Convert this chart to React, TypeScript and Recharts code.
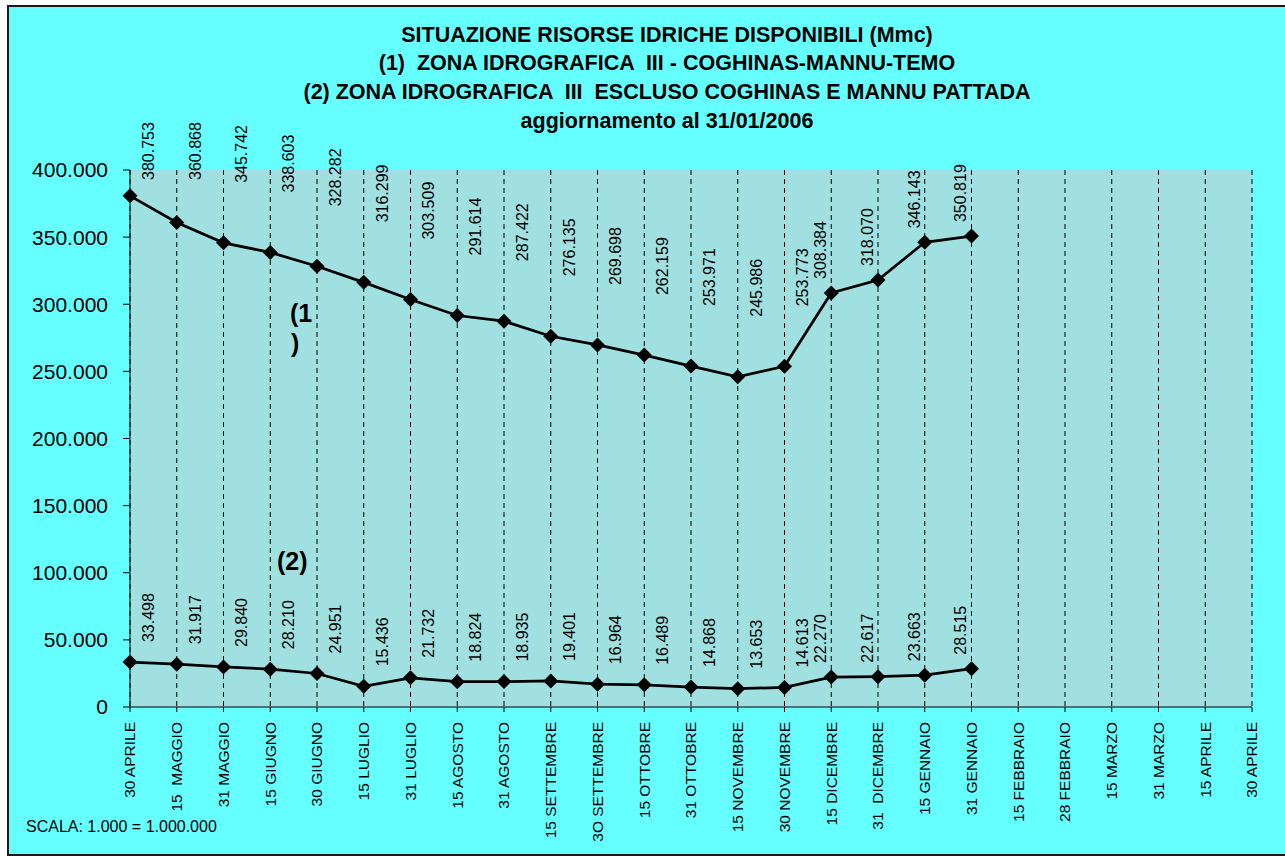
import React from "react";
import { LineChart, Line, XAxis, YAxis, CartesianGrid, LabelList } from "recharts";

const CATEGORIES = [
  "30 APRILE", "15  MAGGIO", "31 MAGGIO", "15 GIUGNO", "30 GIUGNO", "15 LUGLIO",
  "31 LUGLIO", "15 AGOSTO", "31 AGOSTO", "15 SETTEMBRE", "3O SETTEMBRE", "15 OTTOBRE",
  "31 OTTOBRE", "15 NOVEMBRE", "30 NOVEMBRE", "15 DICEMBRE", "31  DICEMBRE", "15 GENNAIO",
  "31 GENNAIO", "15 FEBBRAIO", "28 FEBBRAIO", "15 MARZO", "31 MARZO", "15 APRILE", "30 APRILE",
];

// Zona idrografica III - Coghinas-Mannu-Temo (thousand m3)
const SERIES_1 = [
  380753, 360868, 345742, 338603, 328282, 316299, 303509, 291614, 287422, 276135,
  269698, 262159, 253971, 245986, 253773, 308384, 318070, 346143, 350819,
];

// Zona idrografica III escluso Coghinas e Mannu Pattada (thousand m3)
const SERIES_2 = [
  33498, 31917, 29840, 28210, 24951, 15436, 21732, 18824, 18935, 19401,
  16964, 16489, 14868, 13653, 14613, 22270, 22617, 23663, 28515,
];

const Y_TICKS = [0, 50000, 100000, 150000, 200000, 250000, 300000, 350000, 400000];

const TITLE_LINES = [
  "SITUAZIONE RISORSE IDRICHE DISPONIBILI (Mmc)",
  "(1)  ZONA IDROGRAFICA  III - COGHINAS-MANNU-TEMO",
  "(2) ZONA IDROGRAFICA  III  ESCLUSO COGHINAS E MANNU PATTADA",
  "aggiornamento al 31/01/2006",
];

const FONT = "'Liberation Sans', Arial, Helvetica, sans-serif";
// from this category on, value labels sit on the left of the marker (as in the original)
const LEFT_LABEL_FROM = 15;

const fmt = (n: number) => {
  const s = String(Math.round(n));
  return s.replace(/\B(?=(\d{3})+(?!\d))/g, ".");
};

const rows = CATEGORIES.map((c, i) => ({
  i,
  cat: c,
  s1: i < SERIES_1.length ? SERIES_1[i] : null,
  s2: i < SERIES_2.length ? SERIES_2[i] : null,
}));

const Diamond = (props: any) => {
  const { cx, cy, value, index } = props;
  if (value == null || cx == null || cy == null || isNaN(cy)) return <g key={`e-${index}`} />;
  const r = 7.5;
  return (
    <path
      key={`d-${index}`}
      d={`M${cx},${cy - r}L${cx + r},${cy}L${cx},${cy + r}L${cx - r},${cy}Z`}
      fill="#000"
    />
  );
};

const makeLabel = (offset: number, leftOffset: number, minY: number) => (props: any) => {
  const { x, y, value, index } = props;
  if (value == null || x == null || y == null) return null;
  const left = index >= LEFT_LABEL_FROM;
  let by = y - (left ? leftOffset : offset);
  if (by < minY) by = minY;
  const tx = left ? x - 5 : x + 24;
  return (
    <text
      key={`l-${index}`}
      x={tx}
      y={by}
      transform={`rotate(-90 ${tx} ${by})`}
      fontSize={16}
      fontFamily={FONT}
      fill="#000"
      textAnchor="start"
    >
      {fmt(value)}
    </text>
  );
};

const XTick = (props: any) => {
  const { x, y, payload } = props;
  const label = CATEGORIES[payload.value] ?? "";
  return (
    <text
      x={x}
      y={y}
      transform={`rotate(-90 ${x} ${y})`}
      textAnchor="end"
      dy="0.35em"
      fontSize={15.5}
      fontFamily={FONT}
      fill="#000"
      style={{ whiteSpace: "pre" }}
    >
      {label}
    </text>
  );
};

export default function App() {
  return (
    <div style={{ position: "absolute", left: 0, top: 0, width: 1285, height: 856, overflow: "hidden" }}>
      <div
        style={{
          position: "absolute",
          left: 7,
          top: 5,
          width: 1300,
          height: 851,
          background: "#66FFFF",
          border: "2px solid #1a1a1a",
          boxSizing: "border-box",
        }}
      />
      <div style={{ position: "absolute", left: 0, top: 0 }}>
        <LineChart
          width={1285}
          height={856}
          data={rows}
          margin={{ top: 170, right: 33, bottom: 0, left: 0 }}
        >
          <CartesianGrid
            horizontal={false}
            vertical={true}
            stroke="#000"
            strokeDasharray="5 4"
            fill="#A0E0E0"
            fillOpacity={1}
          />
          <XAxis
            dataKey="i"
            type="category"
            scale="point"
            padding={{ left: 0, right: 0 }}
            interval={0}
            height={149}
            tick={<XTick />}
            tickSize={5}
            tickMargin={10}
            axisLine={{ stroke: "#000", strokeWidth: 1 }}
            tickLine={{ stroke: "#000" }}
          />
          <YAxis
            type="number"
            domain={[0, 400000]}
            ticks={Y_TICKS}
            interval={0}
            width={130}
            tickSize={7}
            tickMargin={15}
            tickFormatter={(v: number) => fmt(v)}
            tick={{ fontSize: 21, fontFamily: FONT, fill: "#000" }}
            axisLine={{ stroke: "#000", strokeWidth: 1 }}
            tickLine={{ stroke: "#000" }}
          />
          <Line
            dataKey="s1"
            stroke="#000"
            strokeWidth={2.75}
            dot={Diamond}
            activeDot={false}
            isAnimationActive={false}
            connectNulls={false}
          >
            <LabelList dataKey="s1" content={makeLabel(60, 14, 180)} />
          </Line>
          <Line
            dataKey="s2"
            stroke="#000"
            strokeWidth={2.75}
            dot={Diamond}
            activeDot={false}
            isAnimationActive={false}
            connectNulls={false}
          >
            <LabelList dataKey="s2" content={makeLabel(20, 14, 0)} />
          </Line>
        </LineChart>
      </div>
      <svg
        width={1285}
        height={856}
        style={{ position: "absolute", left: 0, top: 0, pointerEvents: "none" }}
      >
        {TITLE_LINES.map((t, k) => (
          <text
            key={k}
            x={667}
            y={[42, 70, 99, 128][k]}
            textAnchor="middle"
            fontSize={21.5}
            fontWeight="bold"
            fontFamily={FONT}
            fill="#000"
            style={{ whiteSpace: "pre" }}
          >
            {t}
          </text>
        ))}
        <text x={290} y={322} fontSize={25} fontWeight="bold" fontFamily={FONT} fill="#000">(1</text>
        <text x={291} y={352} fontSize={25} fontWeight="bold" fontFamily={FONT} fill="#000">)</text>
        <text x={277} y={570} fontSize={25} fontWeight="bold" fontFamily={FONT} fill="#000">(2)</text>
        <text x={26} y={832} fontSize={16} fontFamily={FONT} fill="#000">SCALA: 1.000 = 1.000.000</text>
      </svg>
    </div>
  );
}
